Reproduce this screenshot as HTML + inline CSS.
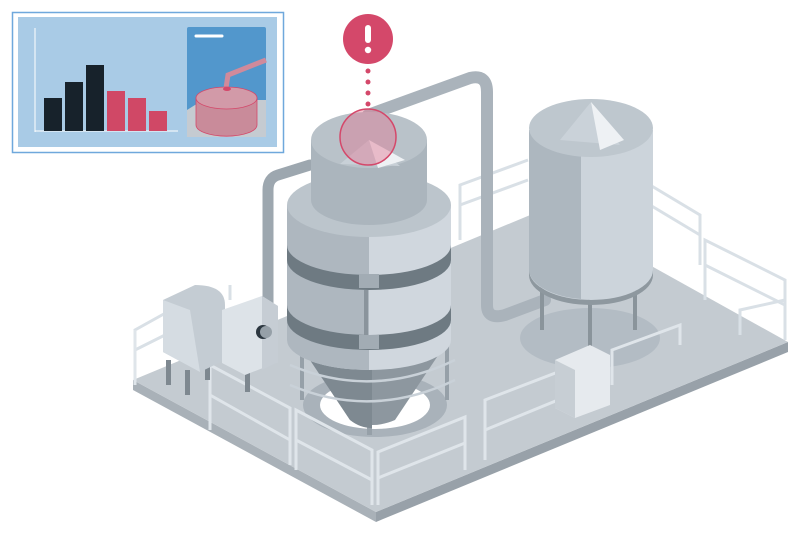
<!DOCTYPE html>
<html><head><meta charset="utf-8"><style>html,body{margin:0;padding:0;background:#fff;width:800px;height:534px;overflow:hidden}svg{display:block}</style></head>
<body>
<svg width="800" height="534" viewBox="0 0 800 534" xmlns="http://www.w3.org/2000/svg">
<polygon points="133,380 376,512 376,522 133,390" fill="#a9b1b8"/>
<polygon points="376,512 788,342 788,352 376,522" fill="#98a1a9"/>
<polygon points="133,380 547,208 788,342 376,512" fill="#c4cbd1"/>
<g stroke="#d9e0e6" stroke-width="3" fill="none">
<polyline points="460,240 460,185 528,160"/><polyline points="460,205 528,180"/>
<polyline points="650,185 700,215 700,265"/><polyline points="650,205 700,235"/>
<polyline points="705,300 705,240 785,280 785,340"/><polyline points="705,265 785,305"/>
<polyline points="740,335 740,310 785,300"/>
<polyline points="135,380 135,330 180,305"/><polyline points="135,350 175,330"/>
<polyline points="230,300 230,285"/>
</g>
<ellipse cx="590" cy="338" rx="70" ry="30" fill="#b3bcc4"/>
<ellipse cx="375" cy="405" rx="72" ry="32" fill="#a9b2ba"/>
<ellipse cx="375" cy="405" rx="55" ry="24" fill="#fff"/>
<g fill="none" stroke-linecap="round" stroke-linejoin="round">
<path d="M368,115 L470,78 Q487,74 487,92 L487,305 Q487,320 505,315 L545,300" stroke="#aab3bb" stroke-width="12"/>
<path d="M310,165 L278,175 Q268,178 268,190 L268,335" stroke="#9da7af" stroke-width="11"/>
</g>
<g>
<rect x="540" y="280" width="4" height="50" fill="#8a949b"/><rect x="588" y="290" width="4" height="60" fill="#8a949b"/><rect x="633" y="280" width="4" height="50" fill="#8a949b"/>
<path d="M529,130 L529,270 A62,30 0 0 0 653,270 L653,130 Z" fill="#ccd4db"/>
<path d="M529,130 L529,270 A62,30 0 0 0 581,299 L581,150 Z" fill="#adb7bf"/>
<path d="M529,270 A62,30 0 0 0 653,270 L653,275 A62,30 0 0 1 529,275Z" fill="#8e989f"/>
<ellipse cx="591" cy="128" rx="62" ry="29" fill="#bec7ce"/>
<polygon points="591,102 560,140 620,145" fill="#cad2d9"/>
<polygon points="591,102 600,150 624,140" fill="#eef1f4"/>
</g>
<g fill="#96a0a8"><rect x="300" y="330" width="4" height="70"/><rect x="445" y="330" width="4" height="70"/><rect x="367" y="280" width="5" height="155"/></g>
<path d="M300,345 L445,345 L395,420 Q372,430 350,420 Z" fill="#8d979f"/>
<path d="M300,345 L372,345 L372,428 Q360,428 350,420 Z" fill="#7e8991"/>
<path d="M287,205 L287,340 A82,30 0 0 0 451,340 L451,205 Z" fill="#d0d7de"/>
<path d="M287,205 L287,340 A82,30 0 0 0 369,370 L369,235 Z" fill="#aeb7bf"/>
<ellipse cx="369" cy="205" rx="82" ry="32" fill="#bcc5cc"/>
<path d="M287,245 A82,30 0 0 0 451,245 L451,260 A82,30 0 0 1 287,260Z" fill="#6e7a82"/>
<path d="M287,305 A82,30 0 0 0 451,305 L451,320 A82,30 0 0 1 287,320Z" fill="#6e7a82"/>
<rect x="359" y="274" width="20" height="14" fill="#a2acb4"/><rect x="359" y="335" width="20" height="14" fill="#a2acb4"/>
<rect x="364" y="290" width="4" height="45" fill="#8a949c"/>
<path d="M311,140 L311,200 A58,25 0 0 0 427,200 L427,140Z" fill="#abb5bd"/>
<ellipse cx="369" cy="140" rx="58" ry="28" fill="#b9c2c9"/>
<polygon points="369,140 340,164 400,166" fill="#c8d0d7"/>
<polygon points="369,140 378,168 405,160" fill="#eef1f4"/>
<g fill="none" stroke="#c9d1d8" stroke-width="2.5"><path d="M290,385 Q372,420 455,380"/><path d="M290,365 Q372,400 455,360"/></g>
<g stroke="#dfe5ea" stroke-width="3" fill="none">
<polyline points="135,385 135,330"/>
<polyline points="210,430 210,365 290,408 290,465"/><polyline points="210,395 290,440"/>
<polyline points="296,470 296,410 372,450 372,505"/><polyline points="296,440 372,480"/>
<polyline points="378,505 378,452 465,417 465,470"/><polyline points="378,478 465,443"/>
<polyline points="485,460 485,400 558,372"/><polyline points="485,430 558,400"/>
<polyline points="612,385 612,350 680,325 680,345"/>
</g>
<g>
<rect x="166" y="360" width="5" height="25" fill="#7e8890"/><rect x="185" y="370" width="5" height="25" fill="#7e8890"/><rect x="205" y="355" width="5" height="25" fill="#7e8890"/>
<path d="M163,300 L195,285 Q225,285 225,305 L225,360 L200,372 L163,352Z" fill="#c4ccd3"/>
<path d="M163,300 L190,310 L200,372 L163,352Z" fill="#d5dce2"/>
<rect x="245" y="370" width="5" height="22" fill="#7e8890"/>
<polygon points="222,310 262,296 278,306 278,362 245,375 222,363" fill="#dde3e8"/>
<polygon points="262,296 278,306 278,362 262,370" fill="#c6cdd4"/>
<circle cx="263" cy="332" r="7" fill="#2c3740"/><circle cx="266" cy="332" r="6" fill="#96a0a8"/>
<polygon points="555,360 590,345 610,355 610,405 575,418 555,408" fill="#e6eaee"/>
<polygon points="555,360 575,370 575,418 555,408" fill="#c7ced4"/>
</g>
<g fill="#d4486a"><circle cx="368" cy="39" r="25"/><circle cx="368" cy="71" r="2.5"/><circle cx="368" cy="82" r="2.5"/><circle cx="368" cy="93" r="2.5"/><circle cx="368" cy="104" r="2.5"/></g>
<rect x="365" y="25" width="6" height="18" rx="3" fill="#fff"/><circle cx="368" cy="50" r="3.2" fill="#fff"/>
<circle cx="368" cy="137" r="28" fill="#e07a95" fill-opacity="0.45" stroke="#d4486a" stroke-width="1.5"/>
<rect x="12.5" y="12.5" width="271" height="140" fill="#fff" stroke="#6fa8dc" stroke-width="1.5"/>
<rect x="18" y="17" width="259" height="130" fill="#a9cbe6"/>
<line x1="35" y1="28" x2="35" y2="132" stroke="#fff" stroke-width="1"/>
<line x1="35" y1="131" x2="178" y2="131" stroke="#fff" stroke-width="1"/>
<g fill="#17222b"><rect x="44" y="98" width="18" height="33"/><rect x="65" y="82" width="18" height="49"/><rect x="86" y="65" width="18" height="66"/></g>
<g fill="#d04866"><rect x="107" y="91" width="18" height="40"/><rect x="128" y="98" width="18" height="33"/><rect x="149" y="111" width="18" height="20"/></g>
<rect x="187" y="27" width="79" height="110" rx="2" fill="#5297cc"/>
<path d="M187,110 L203,100 L266,100 L266,137 L187,137Z" fill="#c5cbd1"/>
<line x1="196" y1="36" x2="222" y2="36" stroke="#fff" stroke-width="3" stroke-linecap="round"/>
<path d="M226,88 L228,75 L266,60" stroke="#d08a9b" stroke-width="5" fill="none"/>
<path d="M196,98 L196,125 A30,11 0 0 0 257,125 L257,98Z" fill="#c98b9a" stroke="#d4486a" stroke-width="0.8"/>
<ellipse cx="226.5" cy="98" rx="30.5" ry="11" fill="#d29aa8" stroke="#d4486a" stroke-width="0.8"/>
<ellipse cx="227" cy="89" rx="4" ry="2" fill="#d4486a"/>
</svg>
</body></html>
